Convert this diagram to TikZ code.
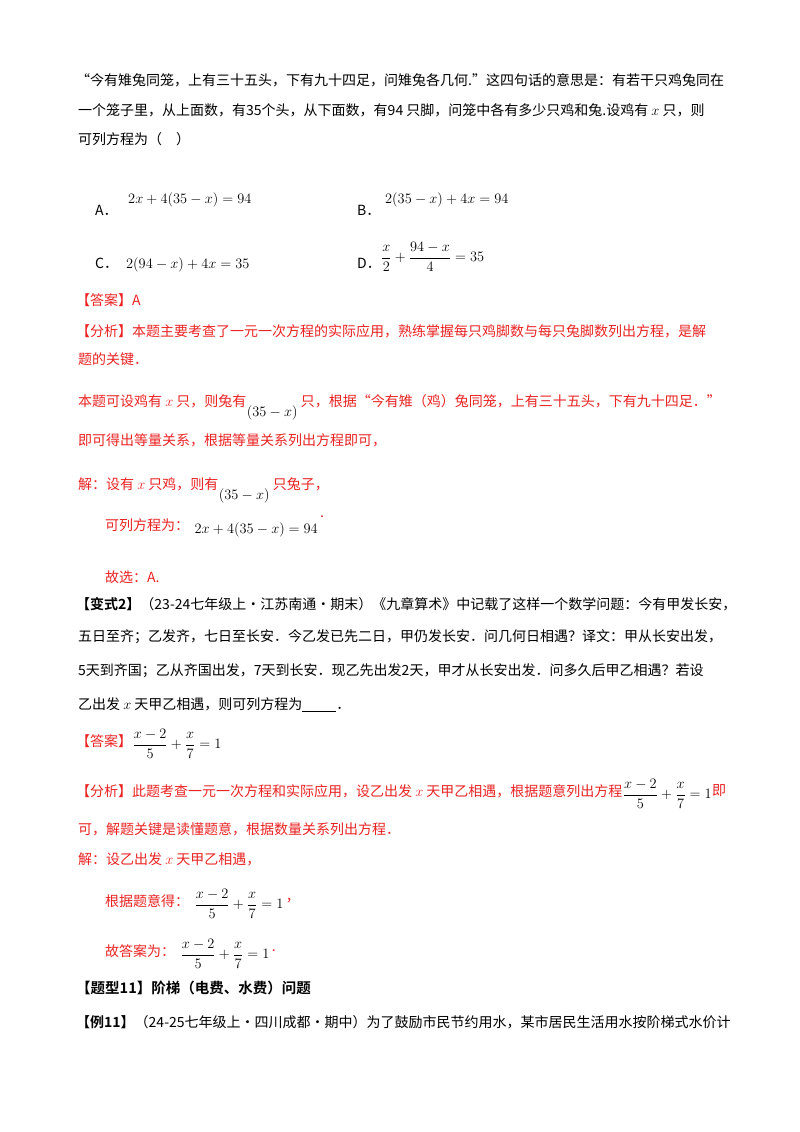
\documentclass[tikz,border=0pt]{standalone}
\usepackage{amsmath}
\usepackage{fontspec}
\newfontfamily\cjk{Noto Sans CJK SC}
\newfontfamily\cjkb{Noto Sans CJK SC Bold}
\definecolor{ans}{RGB}{235,35,35}
\begin{document}
\begin{tikzpicture}[x=1pt,y=-1pt,
  t/.style={anchor=west,inner sep=0,font=\cjk\fontsize{14}{14}\selectfont},
  r/.style={t,text=ans},
  b/.style={t,font=\cjkb\fontsize{14.5}{14}\selectfont},
  m/.style={anchor=west,inner sep=0,font=\fontsize{14}{14}\selectfont}]
\useasboundingbox (0,0) rectangle (800,1132);
\fill[white] (0,0) rectangle (800,1132);
\node[t] (l1) at (76,80) {“今有雉兔同笼，上有三十五头，下有九十四足，问雉兔各几何.”这四句话的意思是：有若干只鸡兔同在};
\node[t] (l2) at (78,110) {一个笼子里，从上面数，有35个头，从下面数，有94 只脚，问笼中各有多少只鸡和兔.设鸡有 $x$ 只，则};
\node[t] (l3) at (78,139) {可列方程为（\quad）};
\node[t] (oa) at (95,210) {A．};
\node[m] (fa) at (128,200) {$2x+4(35-x)=94$};
\node[t] (ob) at (357,210) {B．};
\node[m] (fb) at (385,200) {$2(35-x)+4x=94$};
\node[t] (oc) at (95,263) {C．};
\node[m] (fc) at (126,265) {$2(94-x)+4x=35$};
\node[t] (od) at (357,263) {D．};
\node[m] (fd) at (381,257) {$\dfrac{x}{2}+\dfrac{94-x}{4}=35$};
\node[r] (a1) at (76,300) {【答案】A};
\node[r] (a2) at (76,331) {【分析】本题主要考查了一元一次方程的实际应用，熟练掌握每只鸡脚数与每只兔脚数列出方程，是解};
\node[r] (a3) at (78,359) {题的关键．};
\node[r] (a4) at (78,401) {本题可设鸡有 $x$ 只，则兔有};
\node[m] (a4m) at ([yshift=-12]a4.east) {$(35-x)$};
\node[r] (a4b) at ([xshift=3]a4.east -| a4m.east) {只，根据“今有雉（鸡）兔同笼，上有三十五头，下有九十四足．”};
\node[r] (a5) at (78,440) {即可得出等量关系，根据等量关系列出方程即可，};
\node[r] (a6) at (78,484) {解：设有 $x$ 只鸡，则有};
\node[m] (a6m) at ([yshift=-12]a6.east) {$(35-x)$};
\node[r] (a6b) at ([xshift=3]a6.east -| a6m.east) {只兔子，};
\node[r] (a7) at (105,525) {可列方程为：};
\node[m] (a7m) at ([xshift=5,yshift=-5]a7.east) {$2x+4(35-x)=94$};
\node[r] (a7d) at ([xshift=2,yshift=8]a7.east -| a7m.east) {.};
\node[r] (a8) at (105,577) {故选：A.};
\node[t] (v1) at (76,604) {{\cjkb【变式2】}（23-24七年级上·江苏南通·期末）《九章算术》中记载了这样一个数学问题：今有甲发长安，};
\node[t] (v2) at (78,637) {五日至齐；乙发齐，七日至长安．今乙发已先二日，甲仍发长安．问几何日相遇？译文：甲从长安出发，};
\node[t] (v3) at (78,671) {5天到齐国；乙从齐国出发，7天到长安．现乙先出发2天，甲才从长安出发．问多久后甲乙相遇？若设};
\node[t] (v4) at (78,705) {乙出发 $x$ 天甲乙相遇，则可列方程为\underline{\hspace{34pt}}．};
\node[r] (w1) at (76,741) {【答案】};
\node[m] (w1m) at ([yshift=-3]w1.east) {$\dfrac{x-2}{5}+\dfrac{x}{7}=1$};
\node[r] (w2) at (76,791) {【分析】此题考查一元一次方程和实际应用，设乙出发 $x$ 天甲乙相遇，根据题意列出方程};
\node[m] (w2m) at ([yshift=-3]w2.east) {$\dfrac{x-2}{5}+\dfrac{x}{7}=1$};
\node[r] (w2b) at (w2.east -| w2m.east) {即};
\node[r] (w3) at (78,829) {可，解题关键是读懂题意，根据数量关系列出方程．};
\node[r] (w4) at (78,859) {解：设乙出发 $x$ 天甲乙相遇，};
\node[r] (w5) at (105,901) {根据题意得：};
\node[m] (w5m) at ([xshift=5,yshift=-3]w5.east) {$\dfrac{x-2}{5}+\dfrac{x}{7}=1$};
\node[r] (w5c) at ([xshift=2]w5.east -| w5m.east) {，};
\node[r] (w6) at (105,951) {故答案为：};
\node[m] (w6m) at ([xshift=5,yshift=-3]w6.east) {$\dfrac{x-2}{5}+\dfrac{x}{7}=1$};
\node[r] (w6d) at ([xshift=2]w6.east -| w6m.east) {.};
\node[b] (h1) at (76,988) {【题型11】阶梯（电费、水费）问题};
\node[t] (h2) at (76,1022) {{\cjkb【例11】}（24-25七年级上·四川成都·期中）为了鼓励市民节约用水，某市居民生活用水按阶梯式水价计};
\end{tikzpicture}
\end{document}
